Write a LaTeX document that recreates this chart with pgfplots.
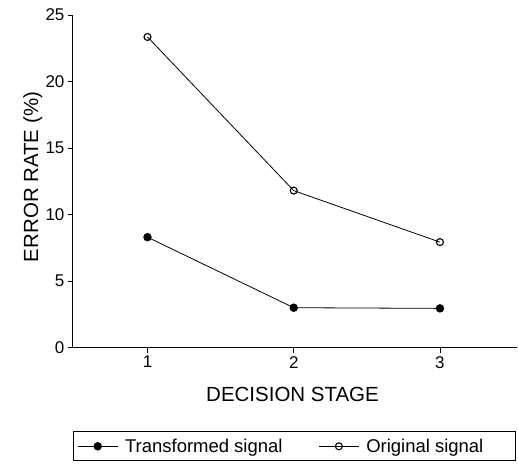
\documentclass[border=0pt]{standalone}
\usepackage{fontspec}
\setmainfont{Liberation Sans}
\usepackage{pgfplots}
\pgfplotsset{compat=1.18}
\begin{document}
\begin{tikzpicture}
\begin{axis}[
    scale only axis,
    width=445pt, height=333pt,
    xmin=0.49, xmax=3.53,
    ymin=0, ymax=25,
    axis x line*=bottom,
    axis y line*=left,
    axis line style={line width=1.1pt},
    xtick={1,2,3},
    ytick={0,5,10,15,20,25},
    tick align=outside,
    major tick length=5pt,
    tick style={black, line width=0.9pt},
    /pgf/number format/assume math mode=true,
    every tick label/.append style={font=\fontsize{17}{20}\selectfont},
    xlabel={DECISION STAGE},
    ylabel={ERROR RATE (\%)},
    every axis x label/.style={at={(axis description cs:0.494,-0.141)}, anchor=center,
        font=\fontsize{20.5}{24}\selectfont},
    every axis y label/.style={at={(axis description cs:-0.09,0.513)}, rotate=90, anchor=center,
        font=\fontsize{20.5}{24}\selectfont},
    legend columns=2,
    legend style={
        at={(axis description cs:0,-0.252)}, anchor=north west,
        draw=black, line width=0.8pt,
        inner xsep=4pt, inner ysep=5pt,
        font=\fontsize{18.5}{21}\selectfont,
        /tikz/every even column/.append style={column sep=34pt},
        /tikz/every odd column/.append style={column sep=5pt},
    },
    legend image code/.code={
        \draw[mark repeat=2, mark phase=2] plot coordinates {(0pt,0pt) (20pt,0pt) (40pt,0pt)};
    },
]
\addplot[black, line width=0.8pt, mark=*, mark size=3.8pt, mark options={fill=black}]
    coordinates {(1,8.3) (2,3.0) (3,2.95)};
\addlegendentry{Transformed signal}
\addplot[black, line width=0.8pt, mark=o, mark size=3.5pt, mark options={fill=white, line width=1.1pt}]
    coordinates {(1,23.35) (2,11.8) (3,7.93)};
\addlegendentry{Original signal\hspace*{26pt}}
\end{axis}
\path ([shift={(-73pt,-122pt)}]current axis.south west) rectangle ([shift={(0pt,15pt)}]current axis.north east);
\end{tikzpicture}
\end{document}
